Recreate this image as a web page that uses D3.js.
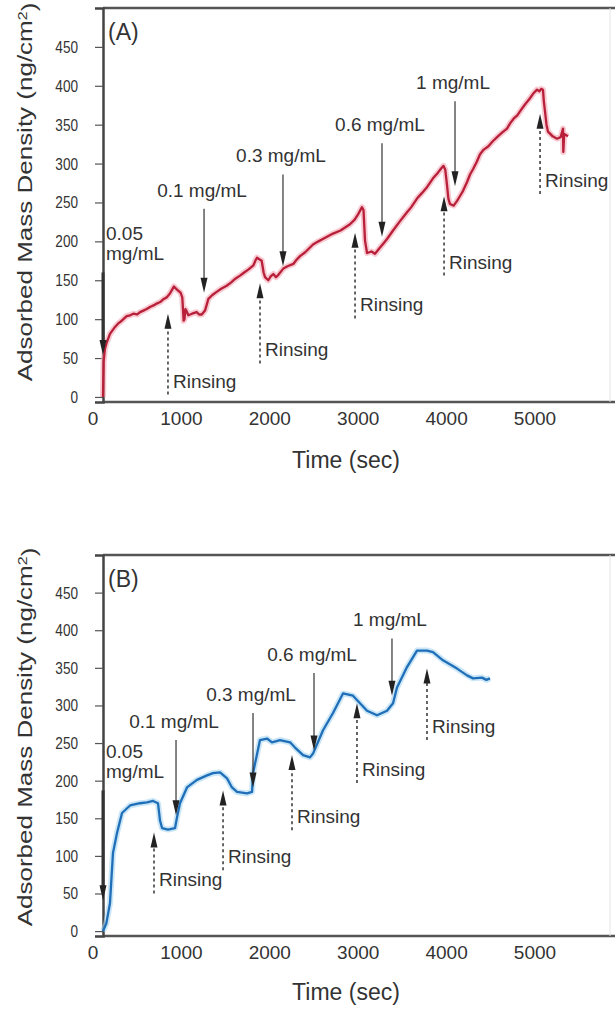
<!DOCTYPE html>
<html>
<head>
<meta charset="utf-8">
<script src="https://cdn.jsdelivr.net/npm/d3@7"></script>
<style>
  body { margin: 0; background: #fff; }
  svg { display: block; font-family: "Liberation Sans", Arial, sans-serif; }
</style>
</head>
<body>
<svg width="615" height="1010"></svg>
<script>
const xTickVals = [0, 1000, 2000, 3000, 4000, 5000];
const yTickVals = [0, 50, 100, 150, 200, 250, 300, 350, 400, 450];
const concLabels = ["0.05 mg/mL", "0.1 mg/mL", "0.3 mg/mL", "0.6 mg/mL", "1 mg/mL"];
const rinseLabel = "Rinsing";

// panel A (red trace)
const timeA = [113, 120, 135, 155, 192, 249, 290, 325, 381, 420, 456, 500, 532, 570, 607, 650, 690, 720, 760, 800,
  834, 870, 900, 915, 950, 990, 1010, 1025, 1035, 1045, 1060, 1078, 1120, 1173, 1200, 1230, 1267, 1290, 1305, 1350,
  1399, 1450, 1512, 1560, 1610, 1663, 1710, 1760, 1814, 1840, 1855, 1880, 1908, 1930, 1946, 1983, 2010, 2040, 2070, 2097,
  2153, 2200, 2266, 2300, 2342, 2400, 2489, 2550, 2600, 2715, 2800, 2907, 2960, 3000, 3043, 3060, 3077, 3100, 3150, 3190,
  3247, 3290, 3326, 3394, 3473, 3550, 3600, 3665, 3720, 3780, 3846, 3900, 3940, 3965, 3985, 4005, 4020, 4038, 4080, 4118,
  4150, 4186, 4230, 4265, 4300, 4340, 4378, 4420, 4470, 4525, 4580, 4630, 4683, 4720, 4760, 4800, 4830, 4880, 4943, 4980,
  5023, 5050, 5070, 5090, 5100, 5113, 5130, 5147, 5200, 5249, 5290, 5317, 5320, 5330, 5373];
const massA = [0, 45, 62, 70, 81, 90, 95, 98, 104, 105, 107, 106, 109, 111, 113, 116, 118, 120, 122, 126,
  128, 133, 139, 142, 138, 134, 128, 98, 100, 113, 110, 105, 107, 109, 106, 106, 111, 120, 126, 131,
  135, 139, 143, 147, 152, 156, 160, 164, 169, 176, 179, 177, 175, 160, 154, 150, 155, 158, 154, 157,
  165, 168, 171, 176, 181, 186, 196, 200, 203, 210, 214, 222, 228, 235, 244, 240, 201, 185, 187, 184,
  192, 198, 203, 214, 226, 237, 244, 255, 262, 270, 281, 288, 294, 297, 292, 272, 255, 248, 246, 252,
  258, 265, 276, 286, 293, 302, 312, 318, 322, 329, 335, 340, 345, 352, 358, 362, 367, 375, 384, 390,
  395, 393, 396, 395, 380, 367, 350, 341, 335, 332, 334, 345, 315, 338, 335];
const addTimeA = [113, 1256, 2149, 3269, 4095];
const addTopA = [160, 242, 286, 326, 380];
const addTipA = [54, 134, 168, 206, 271];
const rinseTimeA = [848, 1889, 2964, 3971, 5057];
const rinseBottomA = [3, 43, 101, 156, 261];
const rinseTipA = [107, 146, 211, 258, 364];

// panel B (blue trace)
const timeB = [113, 150, 192, 226, 271, 328, 419, 532, 611, 679, 735, 758, 781, 848, 928, 950, 984, 1063, 1176, 1290,
  1357, 1437, 1516, 1572, 1629, 1742, 1799, 1810, 1889, 1968, 2025, 2115, 2229, 2285, 2376, 2455, 2489, 2602, 2715, 2828,
  2941, 3020, 3100, 3213, 3326, 3394, 3439, 3552, 3665, 3778, 3846, 3959, 4118, 4231, 4299, 4400, 4450, 4491];
const massB = [0, 10, 37, 104, 130, 157, 167, 170, 171, 173, 170, 147, 137, 135, 137, 151, 170, 191, 201, 207,
  210, 211, 203, 191, 185, 183, 185, 210, 254, 256, 251, 254, 251, 244, 234, 231, 236, 267, 290, 316,
  313, 303, 293, 287, 293, 303, 324, 351, 373, 373, 371, 360, 349, 340, 336, 337, 334, 336];
const addTimeB = [113, 939, 1810, 2500, 3382];
const addTopB = [187, 254, 290, 343, 389];
const addTipB = [41, 154, 191, 240, 313];
const rinseTimeB = [690, 1471, 2251, 2986, 3778];
const rinseBottomB = [50, 81, 134, 197, 254];
const rinseTipB = [131, 187, 234, 303, 349];

const svg = d3.select("svg");
const x = d3.scaleLinear().domain([113, 5837]).range([103, 609]);
const textColor = "#333";

const panels = [
  { tag: "(A)", top: 8, bottom: 402, color: "#b8203a", halo: "#f3a6b4",
    time: timeA, mass: massA, addT: addTimeA, addTop: addTopA, addTip: addTipA,
    rT: rinseTimeA, rBot: rinseBottomA, rTip: rinseTipA, titleY: 468, titleMid: 192 },
  { tag: "(B)", top: 555, bottom: 936, color: "#1f6fb8", halo: "#a8d6f2",
    time: timeB, mass: massB, addT: addTimeB, addTop: addTopB, addTip: addTipB,
    rT: rinseTimeB, rBot: rinseBottomB, rTip: rinseTipB, titleY: 1000, titleMid: 737 }
];

panels.forEach(function(p) {
  const y = d3.scaleLinear().domain([-6.5, 500]).range([p.bottom, p.top]);
  const g = svg.append("g");

  // frame
  g.append("line").attr("x1", 103).attr("x2", 615).attr("y1", p.top).attr("y2", p.top)
    .attr("stroke", "#555").attr("stroke-width", 2.5);
  g.append("line").attr("x1", 103).attr("x2", 615).attr("y1", p.bottom).attr("y2", p.bottom)
    .attr("stroke", "#555").attr("stroke-width", 2.5);
  g.append("line").attr("x1", 610).attr("x2", 610).attr("y1", p.top).attr("y2", p.bottom)
    .attr("stroke", "#e4e4e4").attr("stroke-width", 1);

  // y axis
  const yAxis = g.append("g").attr("transform", "translate(103,0)")
    .call(d3.axisLeft(y).tickValues(yTickVals).tickSize(8).tickPadding(17));
  yAxis.select(".domain").attr("stroke", "#444").attr("stroke-width", 2.5);
  yAxis.selectAll(".tick line").attr("stroke", "#555").attr("stroke-width", 1.2);
  yAxis.selectAll(".tick text")
    .attr("x", null)
    .attr("transform", "translate(-25,0) scale(0.8,1)")
    .attr("fill", textColor)
    .style("font-size", "17px");

  // x tick labels (the 0 label sits left of the frame)
  g.selectAll(".xlab").data(xTickVals).enter().append("text")
    .attr("x", d => x(d))
    .attr("y", p.bottom + 23)
    .attr("text-anchor", "middle")
    .attr("fill", textColor)
    .style("font-size", "19px")
    .text(d => d);

  // axis titles
  g.append("text")
    .attr("x", 346).attr("y", p.titleY)
    .attr("text-anchor", "middle").attr("fill", textColor)
    .style("font-size", "23px")
    .text("Time (sec)");
  const yt = g.append("text")
    .attr("transform", "translate(25," + p.titleMid + ") scale(0.8,1) rotate(-90)")
    .attr("text-anchor", "middle").attr("dy", "0.35em").attr("fill", textColor)
    .style("font-size", "26px");
  yt.append("tspan").text("Adsorbed Mass Density (ng/cm");
  yt.append("tspan").attr("dy", "-0.45em").style("font-size", "16px").text("2");
  yt.append("tspan").attr("dy", "0.45em").text(")");

  g.append("text").attr("x", 108).attr("y", p.top + 32)
    .attr("fill", textColor).style("font-size", "23px").text(p.tag);

  // trace
  const pts = p.time.map((t, i) => [t, p.mass[i]]);
  const line = d3.line().x(d => x(d[0])).y(d => y(d[1]));
  g.append("path").attr("d", line(pts)).attr("fill", "none")
    .attr("stroke", p.halo).attr("stroke-width", 6).attr("stroke-opacity", 0.6)
    .attr("stroke-linejoin", "round");
  g.append("path").attr("d", line(pts)).attr("fill", "none")
    .attr("stroke", p.color).attr("stroke-width", 2.3)
    .attr("stroke-linejoin", "round");

  // adsorption arrows (pointing down)
  p.addT.forEach(function(t, i) {
    const ax = x(t), y0 = y(p.addTop[i]), y1 = y(p.addTip[i]);
    g.append("line").attr("x1", ax).attr("x2", ax).attr("y1", y0).attr("y2", y1 - 12)
      .attr("stroke", "#333").attr("stroke-width", i === 0 ? 3 : 1.2);
    g.append("path").attr("d", "M" + (ax - 3.5) + "," + (y1 - 15) + "L" + (ax + 3.5) + "," + (y1 - 15) + "L" + ax + "," + y1 + "Z")
      .attr("fill", "#222");
    if (i === 0) {
      const parts = concLabels[0].split(" ");
      g.append("text").attr("x", ax + 3).attr("y", y0 - 32).attr("fill", textColor)
        .style("font-size", "19px").text(parts[0]);
      g.append("text").attr("x", ax + 3).attr("y", y0 - 12).attr("fill", textColor)
        .style("font-size", "19px").text(parts[1]);
    } else {
      g.append("text").attr("x", ax - 2).attr("y", y0 - 12).attr("text-anchor", "middle")
        .attr("fill", textColor).style("font-size", "19px").text(concLabels[i]);
    }
  });

  // rinsing arrows (dashed, pointing up)
  p.rT.forEach(function(t, i) {
    const rx = x(t), y0 = y(p.rBot[i]), y1 = y(p.rTip[i]);
    g.append("line").attr("x1", rx).attr("x2", rx).attr("y1", y0).attr("y2", y1 + 12)
      .attr("stroke", "#333").attr("stroke-width", 1.5).attr("stroke-dasharray", "3,3");
    g.append("path").attr("d", "M" + (rx - 3.5) + "," + (y1 + 15) + "L" + (rx + 3.5) + "," + (y1 + 15) + "L" + rx + "," + y1 + "Z")
      .attr("fill", "#222");
    g.append("text").attr("x", rx + 5).attr("y", y0 - 7).attr("fill", textColor)
      .style("font-size", "19px").text(rinseLabel);
  });
});
</script>
</body>
</html>
